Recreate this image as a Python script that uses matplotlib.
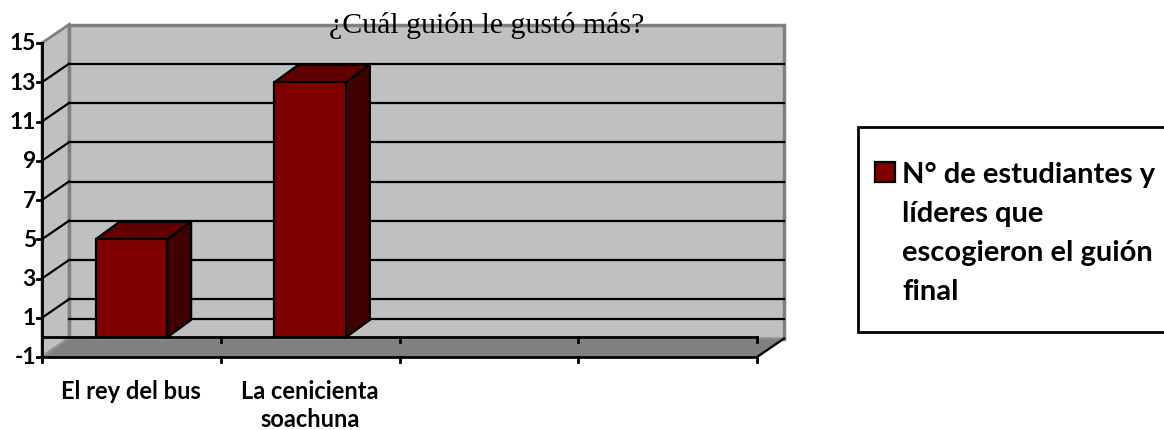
import matplotlib
matplotlib.use("Agg")
import matplotlib.pyplot as plt
from matplotlib.patches import Polygon, Rectangle

# chart data
categories = ["El rey del bus", "La cenicienta\nsoachuna", "", ""]
values = [5, 13]
y_ticks = list(range(-1, 16, 2))
y_min, y_max = -1, 15
title = "¿Cuál guión le gustó más?"
series_label = ["N° de estudiantes y", "líderes que", "escogieron el guión", "final"]

W, H = 1164, 431
fig = plt.figure(figsize=(W / 100, H / 100), dpi=100)
ax = fig.add_axes([0, 0, 1, 1])
ax.set_axis_off()

# one unit on x = one category slot, one unit on y = one value unit
x0_px, slot_px = 42, 178.75
ybase_px, unit_px = 358, 19.625
ax.set_xlim((0 - x0_px) / slot_px, (W - x0_px) / slot_px)
ax.set_ylim((ybase_px - H) / unit_px + y_min, ybase_px / unit_px + y_min)

n = len(categories)
DX, DY = 27 / slot_px, 18.5 / unit_px      # wall depth
BDX, BDY = 24 / slot_px, 17.5 / unit_px    # bar depth
wall = "#C0C0C0"
wall_edge = "#808080"


def poly(pts, **kw):
    ax.add_patch(Polygon(pts, closed=True, **kw))


# back wall and side wall
poly([(DX, y_min + DY), (n + DX, y_min + DY), (n + DX, y_max + DY), (DX, y_max + DY)],
     fc=wall, ec=wall_edge, lw=2.5, zorder=1)
poly([(0, y_min), (DX, y_min + DY), (DX, y_max + DY), (0, y_max)],
     fc=wall, ec=wall_edge, lw=2, zorder=1)

# gridlines on the walls
for v in y_ticks[1:-1]:
    ax.plot([DX, n + DX], [v + DY, v + DY], color="black", lw=1.6, zorder=2)
    ax.plot([0, DX], [v, v + DY], color="black", lw=1.6, zorder=2)
ax.plot([DX, n + DX], [0 + DY, 0 + DY], color="black", lw=1.6, zorder=2)

# floor
poly([(0, y_min), (n, y_min), (n + DX, y_min + DY), (DX, y_min + DY)],
     fc="#808080", ec="#909090", lw=1.5, zorder=2)
ax.plot([n, n + DX], [y_min, y_min + DY], color="black", lw=1.6, zorder=3)

# category axis lines at 0 and at the floor edge
tick_len = 5 / unit_px
for yl in (0, y_min):
    ax.plot([0, n], [yl, yl], color="black", lw=2, zorder=3)
    for k in range(n + 1):
        ax.plot([k, k], [yl, yl - tick_len], color="black", lw=2, zorder=3)

# bars
for i, v in enumerate(values):
    a, b = i + 0.3, i + 0.7
    kw = dict(ec="black", lw=1.6, joinstyle="miter", zorder=4)
    poly([(b, 0), (b + BDX, BDY), (b + BDX, v + BDY), (b, v)], fc="#400000", **kw)
    poly([(a, v), (b, v), (b + BDX, v + BDY), (a + BDX, v + BDY)], fc="#600000", **kw)
    ax.add_patch(Rectangle((a, 0), b - a, v, fc="#800000", **kw))

# value axis
ax.plot([0, 0], [y_min, y_max], color="black", lw=2, zorder=5)
ytick_len = 5 / slot_px
for v in y_ticks:
    ax.plot([-ytick_len, 0], [v, v], color="black", lw=2, zorder=5)
    ax.text(-6 / slot_px, v, str(v), ha="right", va="center",
            family="Lato", weight="bold", fontsize=16.5)

# category labels
for i, c in enumerate(categories):
    if c:
        ax.text(i + 0.5, y_min - 22 / unit_px, c, ha="center", va="top",
                family="Lato", weight="bold", fontsize=17, linespacing=1.25)

# title
ax.text((487 - x0_px) / slot_px, (ybase_px - 33) / unit_px + y_min, title,
        ha="center", va="baseline", family="Liberation Serif", fontsize=21.5, zorder=6)

# legend
T = ax.transAxes
def fx(px):
    return px / W
def fy(py):
    return 1 - py / H

ax.add_patch(Rectangle((fx(858), fy(333)), fx(1180) - fx(858), fy(128) - fy(333),
                       transform=T, fc="white", ec="black", lw=2, clip_on=False))
ax.add_patch(Rectangle((fx(875), fy(183)), fx(895) - fx(875), fy(163) - fy(183),
                       transform=T, fc="#800000", ec="black", lw=1.6))
for j, line in enumerate(series_label):
    ax.text(fx(902), fy(183 + 39 * j), line, transform=T, ha="left", va="baseline",
            family="Lato", weight="bold", fontsize=21)

fig.savefig("out.png", dpi=100)
